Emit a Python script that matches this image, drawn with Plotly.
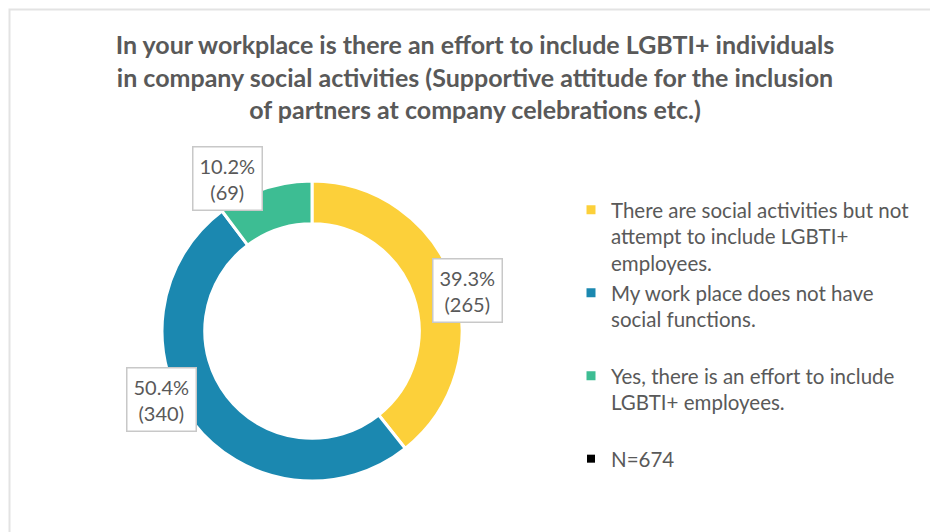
import plotly.graph_objects as go

# data
categories = [
    "There are social activities but not<br>attempt to include LGBTI+<br>employees.",
    "My work place does not have<br>social functions.<br> ",
    "Yes, there is an effort to include<br>LGBTI+ employees.<br> ",
]
counts = [265, 340, 69]
colors = ["#FCD03A", "#1B88B0", "#3DBD93"]
total_label = "N=674"

title = ("In your workplace is there an effort to include LGBTI+ individuals<br>"
         "in company social activities (Supportive attitude for the inclusion<br>"
         "of partners at company celebrations etc.)")

W, H = 938, 532
OFF = 8  # page body margin shifts the figure on screen
FONT = "Lato, 'Open Sans', sans-serif"
GREY = "#595959"

# donut geometry in screen pixels
cx, cy, r = 312, 331, 150
# where the boxed data labels sit (pixel centres)
label_pos = [(467, 290), (161, 399), (227, 179)]


def px(x):
    return (x - OFF) / W


def py(y):
    return 1 - (y - OFF) / H


fig = go.Figure()

fig.add_trace(go.Pie(
    labels=categories,
    values=counts,
    sort=False,
    direction="clockwise",
    rotation=0,
    hole=0.715,
    marker=dict(colors=colors, line=dict(color="white", width=3)),
    textinfo="none",
    hoverinfo="label+value+percent",
    domain=dict(x=[px(cx - r), px(cx + r)], y=[py(cy + r), py(cy - r)]),
    showlegend=True,
))

# dummy trace just for the N legend entry
fig.add_trace(go.Scatter(
    x=[None], y=[None],
    mode="markers",
    marker=dict(symbol="square", size=8, color="black"),
    name=total_label,
    showlegend=True,
))

total = sum(counts)
for v, (lx, ly) in zip(counts, label_pos):
    fig.add_annotation(
        x=px(lx), y=py(ly), xref="paper", yref="paper",
        text=f"{v / total * 100:.1f}%<br>({v})",
        showarrow=False,
        font=dict(family=FONT, size=20, color=GREY),
        bgcolor="white",
        bordercolor="#C8C8C8",
        borderwidth=1.5,
        borderpad=6,
        xanchor="center", yanchor="middle",
    )

# light frame of the chart area (runs off right/bottom edges)
fig.add_shape(type="rect", xref="paper", yref="paper",
              x0=1.5 / W, x1=1.2, y0=-0.2, y1=1 - 1.5 / H,
              line=dict(color="#E3E3E3", width=2), fillcolor="rgba(0,0,0,0)")

fig.update_layout(
    width=W, height=H,
    margin=dict(l=0, r=0, t=0, b=0),
    paper_bgcolor="white",
    plot_bgcolor="white",
    title=dict(
        text=f"<b>{title}</b>",
        x=px(475), xanchor="center",
        y=py(54), yanchor="middle", yref="container",
        font=dict(family=FONT, size=25, color=GREY),
    ),
    xaxis=dict(visible=False),
    yaxis=dict(visible=False),
    legend=dict(
        x=px(571), y=py(190), xanchor="left", yanchor="top",
        font=dict(family=FONT, size=20.5, color=GREY),
        valign="top",
        itemwidth=30,
        bgcolor="rgba(0,0,0,0)",
    ),
)

fig.write_html("out.html")
